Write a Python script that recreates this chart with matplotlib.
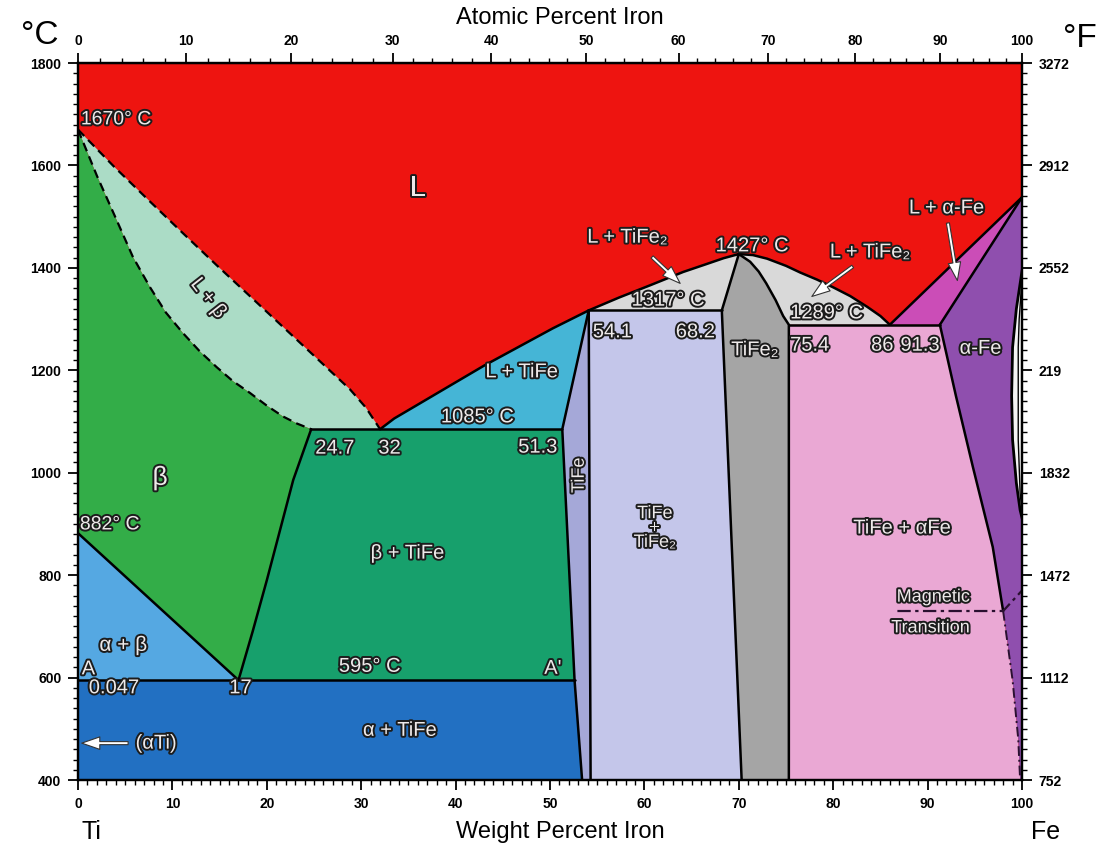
import numpy as np
import matplotlib.pyplot as plt
from matplotlib import patheffects as pe
from matplotlib.patches import Polygon

plt.rcParams['font.family'] = ['Liberation Sans Narrow', 'Liberation Sans', 'DejaVu Sans']

# phase boundaries, x in wt% Fe, t in deg C
liq_beta_x = [0, 3.8, 7.6, 11.1, 14.7, 18.2, 21.7, 25.2, 28.8, 30.5, 32.0]
liq_beta_t = [1670, 1598, 1530, 1468, 1405, 1345, 1285, 1225, 1163, 1127, 1085]
sol_beta_x = [0, 2.0, 4.1, 5.8, 7.6, 9.3, 11.1, 12.9, 14.7, 16.4, 18.2, 20.0, 21.7, 23.2, 24.7]
sol_beta_t = [1670, 1580, 1493, 1422, 1363, 1313, 1273, 1237, 1206, 1179, 1156, 1131, 1110, 1096, 1085]
transus_x = [0, 17.0]
transus_t = [882, 595]
beta_tife_x = [17.0, 18.5, 20.0, 21.4, 22.8, 24.7]
beta_tife_t = [595, 690, 790, 888, 986, 1085]
liq_tife_x = [32.0, 33.5, 35.9, 39.4, 43.0, 46.5, 50.3, 54.1]
liq_tife_t = [1085, 1106, 1132, 1170, 1209, 1244, 1282, 1317]
tife_left_x = [54.1, 51.3, 52.6, 53.4]
tife_left_t = [1317, 1085, 595, 400]
tife_right_x = [54.1, 54.3]
tife_right_t = [1317, 400]
liq_l_x = [54.1, 57.3, 60.6, 64.1, 66.5, 68.4, 70.0]
liq_l_t = [1317, 1342, 1366, 1392, 1407, 1419, 1427]
liq_r_x = [70.0, 71.5, 73.0, 75.0, 76.5, 78.3, 80.0, 81.8, 83.6, 85.0, 86.0]
liq_r_t = [1427, 1425, 1418, 1404, 1391, 1377, 1362, 1345, 1324, 1306, 1289]
tife2_left_x = [70.0, 68.2, 70.3]
tife2_left_t = [1427, 1317, 400]
tife2_right_x = [70.0, 71.2, 72.1, 72.9, 73.9, 74.7, 75.3, 75.3]
tife2_right_t = [1427, 1412, 1393, 1370, 1337, 1306, 1289, 400]
liq_fe_x = [86.0, 100]
liq_fe_t = [1289, 1538]
sol_fe_x = [91.3, 100]
sol_fe_t = [1289, 1538]
solvus_x = [91.3, 93.0, 94.8, 96.9, 98.0, 99.0, 99.6, 99.8]
solvus_t = [1289, 1150, 1011, 855, 730, 595, 480, 400]
gamma_out_x = [100, 99.4, 99.0, 98.9, 99.0, 99.4, 99.8, 100]
gamma_out_t = [1394, 1320, 1245, 1150, 1064, 980, 927, 912]
gamma_in_x = [100, 99.7, 99.6, 99.6, 99.8, 100]
gamma_in_t = [1380, 1300, 1245, 1064, 960, 925]
magnetic_x = [86.8, 98.0, 100]
magnetic_t = [730, 730, 770]

# invariant temperatures
t_eut_beta = 1085
t_eutectoid = 595
t_peri = 1317
t_eut_fe = 1289

# axes ticks
wt_ticks = list(range(0, 101, 10))
at_ticks = list(range(0, 101, 10))
c_ticks = [400, 600, 800, 1000, 1200, 1400, 1600, 1800]
f_labels = ['752', '1112', '1472', '1832', '219', '2552', '2912', '3272']

M_FE, M_TI = 55.845, 47.867


def wt_to_at(w):
    w = np.asarray(w, dtype=float)
    nfe = w / M_FE
    nti = (100 - w) / M_TI
    with np.errstate(divide='ignore', invalid='ignore'):
        return 100 * nfe / (nfe + nti)


def at_to_wt(a):
    a = np.asarray(a, dtype=float)
    mfe = a * M_FE
    mti = (100 - a) * M_TI
    with np.errstate(divide='ignore', invalid='ignore'):
        return 100 * mfe / (mfe + mti)


fig = plt.figure(figsize=(11.05, 8.52), dpi=100)
ax = fig.add_axes([0.0706, 0.0845, 0.8543, 0.8415])
ax.set_xlim(0, 100)
ax.set_ylim(400, 1800)
ax.set_facecolor('#ee1410')


def region(xs, ts, color):
    ax.add_patch(Polygon(np.column_stack([xs, ts]), closed=True,
                         fc=color, ec='none', zorder=1))


region(liq_beta_x + sol_beta_x[::-1], liq_beta_t + sol_beta_t[::-1], '#abdcc6')
region(sol_beta_x + beta_tife_x[::-1] + [0],
       sol_beta_t + beta_tife_t[::-1] + [882], '#33ad48')
region([0, 17, 0], [882, 595, 595], '#55a8e2')
region(beta_tife_x + [51.3, 52.6], beta_tife_t + [t_eut_beta, t_eutectoid], '#17a06c')
region([0, 52.6, 53.4, 0], [t_eutectoid, t_eutectoid, 400, 400], '#2270c2')
region(liq_tife_x + [51.3], liq_tife_t + [t_eut_beta], '#45b5d6')
region(tife_left_x + [54.3], tife_left_t + [400], '#a5a8d8')
region([54.1, 68.2, 70.3, 54.3], [t_peri, t_peri, 400, 400], '#c4c6ea')
region(liq_l_x + [68.2], liq_l_t + [t_peri], '#d9d9d9')
region(tife2_left_x + tife2_right_x[::-1], tife2_left_t + tife2_right_t[::-1], '#a5a5a5')
region(tife2_right_x[:-1] + liq_r_x[::-1], tife2_right_t[:-1] + liq_r_t[::-1], '#d9d9d9')
region([75.3] + solvus_x + [75.3], [t_eut_fe] + solvus_t + [400], '#eaa8d4')
region([86, 100, 91.3], [t_eut_fe, 1538, t_eut_fe], '#cb4db7')
region(solvus_x + [100, 100], solvus_t + [400, 1538], '#8f4fae')
region(gamma_out_x, gamma_out_t, '#f4f4f4')

# boundary lines
solid = dict(color='black', lw=1.8, zorder=3, solid_capstyle='round', solid_joinstyle='round')
ax.plot(liq_beta_x, liq_beta_t, color='black', lw=1.6, ls=(0, (4, 2.5)), zorder=3)
ax.plot(sol_beta_x, sol_beta_t, color='black', lw=1.6, ls=(0, (4, 2.5)), zorder=3)
ax.plot(transus_x, transus_t, **solid)
ax.plot(beta_tife_x, beta_tife_t, **solid)
ax.plot([24.7, 51.3], [t_eut_beta, t_eut_beta], **solid)
ax.plot([0, 52.6], [t_eutectoid, t_eutectoid], **solid)
ax.plot(liq_tife_x, liq_tife_t, **solid)
ax.plot(tife_left_x, tife_left_t, **solid)
ax.plot(tife_right_x, tife_right_t, **solid)
ax.plot([54.1, 68.2], [t_peri, t_peri], **solid)
ax.plot(liq_l_x, liq_l_t, **solid)
ax.plot(liq_r_x, liq_r_t, **solid)
ax.plot(tife2_left_x, tife2_left_t, **solid)
ax.plot(tife2_right_x, tife2_right_t, **solid)
ax.plot([75.3, 91.3], [t_eut_fe, t_eut_fe], **solid)
ax.plot(liq_fe_x, liq_fe_t, **solid)
ax.plot(sol_fe_x, sol_fe_t, **solid)
ax.plot(solvus_x[:5], solvus_t[:5], **solid)
ax.plot(solvus_x[4:], solvus_t[4:], color='#2a1030', lw=1.4, ls=(0, (5, 2, 1, 2)), zorder=3)
ax.plot(magnetic_x, magnetic_t, color='#2a1030', lw=1.6, ls=(0, (6, 2, 1.5, 2)), zorder=3)
ax.plot(gamma_out_x, gamma_out_t, color='black', lw=2.0, zorder=3)
ax.plot(gamma_in_x, gamma_in_t, color='black', lw=1.0, zorder=3)

# labels
outline = [pe.withStroke(linewidth=2.8, foreground='#1c1c1c')]


def label(x, t, s, size=14.5, **kw):
    kw.setdefault('ha', 'center')
    kw.setdefault('va', 'center')
    ax.text(x, t, s, fontsize=size, color='#eeeaea', path_effects=outline,
            zorder=5, **kw)


label(0.3, 1689, '1670° C', ha='left', size=14)
label(36, 1556, 'L', size=21)
label(13.8, 1341, 'L + β', rotation=-52)
label(8.7, 990, 'β', size=19)
label(0.2, 898, '882° C', ha='left', size=14)
label(4.8, 663, 'α + β', size=15)
label(1.1, 617, 'A')
label(3.8, 580, '0.047')
label(17.2, 580, '17')
label(30.9, 622, '595° C')
label(50.3, 618, "A'")
label(6.1, 472, '(αTi)', ha='left')
label(34.1, 497, 'α + TiFe')
label(34.9, 843, 'β + TiFe')
label(27.2, 1048, '24.7')
label(33.0, 1048, '32')
label(42.3, 1109, '1085° C')
label(48.7, 1050, '51.3')
label(47.0, 1197, 'L + TiFe')
label(53.1, 995, 'TiFe', size=13, rotation=90)
label(62.5, 1337, '1317° C')
label(56.6, 1275, '54.1')
label(65.4, 1275, '68.2')
label(58.2, 1460, 'L + TiFe₂')
label(71.4, 1443, '1427° C')
label(83.9, 1431, 'L + TiFe₂')
label(79.3, 1312, '1289° C')
label(77.5, 1249, '75.4')
label(85.2, 1249, '86')
label(89.2, 1249, '91.3')
label(95.6, 1243, 'α-Fe')
label(92.0, 1517, 'L + α-Fe')
label(71.7, 1240, 'TiFe₂')
label(61.1, 892, 'TiFe\n+\nTiFe₂', size=13, linespacing=0.8)
label(87.3, 892, 'TiFe + αFe')
label(90.6, 757, 'Magnetic', size=13)
label(90.3, 697, 'Transition', size=13)

# pointer arrows
arrow = dict(arrowstyle='simple,head_width=0.9,head_length=1.3,tail_width=0.22',
             fc='white', ec='#333333', lw=0.8)
ax.annotate('', xy=(64.0, 1366), xytext=(60.6, 1425), arrowprops=arrow, zorder=6)
ax.annotate('', xy=(77.5, 1341), xytext=(82.3, 1406), arrowprops=arrow, zorder=6)
ax.annotate('', xy=(93.2, 1370), xytext=(92.1, 1493), arrowprops=arrow, zorder=6)
ax.annotate('', xy=(0.1, 472), xytext=(5.6, 472), arrowprops=arrow, zorder=6)

# axes, ticks and scales
for sp in ax.spines.values():
    sp.set_linewidth(1.6)
ax.set_xticks(wt_ticks)
ax.set_xticks(range(0, 101, 1), minor=True)
ax.set_yticks(c_ticks)
ax.set_yticks(range(400, 1801, 20), minor=True)
ax.tick_params(which='major', direction='out', length=7, width=1.3, labelsize=10, pad=5)
ax.tick_params(which='minor', direction='out', length=3.5, width=1.0)
for lbl in ax.get_xticklabels() + ax.get_yticklabels():
    lbl.set_fontweight('bold')

ax2 = ax.twinx()
ax2.set_ylim(400, 1800)
ax2.set_yticks(c_ticks)
ax2.set_yticklabels(f_labels)
ax2.set_yticks(range(400, 1801, 20), minor=True)
ax2.tick_params(which='major', direction='out', length=7, width=1.3, labelsize=10, pad=5)
ax2.tick_params(which='minor', direction='out', length=3.5, width=1.0)
for lbl in ax2.get_yticklabels():
    lbl.set_fontweight('bold')
for sp in ax2.spines.values():
    sp.set_linewidth(1.6)

top = ax.secondary_xaxis('top', functions=(wt_to_at, at_to_wt))
top.set_xticks(at_ticks)
top.set_xticks(range(0, 101, 2), minor=True)
top.tick_params(which='major', direction='out', length=7, width=1.3, labelsize=10, pad=4)
top.tick_params(which='minor', direction='out', length=3.5, width=1.0)
for lbl in top.get_xticklabels():
    lbl.set_fontweight('bold')

fig.text(0.036, 0.958, '°C', fontsize=24, ha='center', va='center')
fig.text(0.977, 0.955, '°F', fontsize=24, ha='center', va='center')
fig.text(0.507, 0.979, 'Atomic Percent Iron', fontsize=17, ha='center', va='center')
fig.text(0.507, 0.023, 'Weight Percent Iron', fontsize=17, ha='center', va='center')
fig.text(0.083, 0.023, 'Ti', fontsize=18, ha='center', va='center')
fig.text(0.946, 0.023, 'Fe', fontsize=18, ha='center', va='center')

fig.savefig('out.png', dpi=100)
